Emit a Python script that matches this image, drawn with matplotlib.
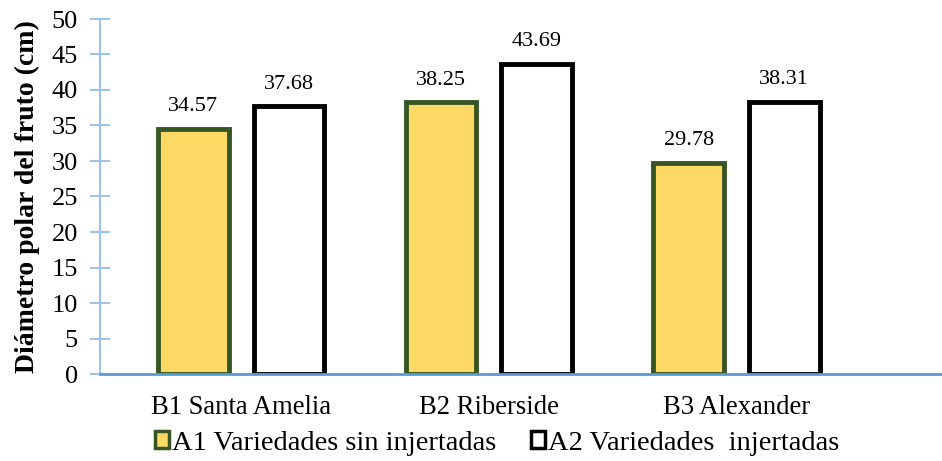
import matplotlib
matplotlib.use("Agg")
import matplotlib.pyplot as plt
import numpy as np
from matplotlib.patches import Patch

categories = ["B1 Santa Amelia", "B2 Riberside", "B3 Alexander"]
series_names = ["A1 Variedades sin injertadas", "A2 Variedades  injertadas"]
a1_values = [34.57, 38.25, 29.78]
a2_values = [37.68, 43.69, 38.31]
y_ticks = [0, 5, 10, 15, 20, 25, 30, 35, 40, 45, 50]

plt.rcParams['font.family'] = ['Liberation Serif', 'DejaVu Serif']

fig = plt.figure(figsize=(9.42, 4.61), dpi=100)
ax = fig.add_axes([100/942, 1-374/461, 1-100/942, (374-19)/461])

x = np.arange(len(categories))
w = 0.285
off = 0.193
b1 = ax.bar(x - off, a1_values, width=w, color="#FFD966", edgecolor="#375623", linewidth=3.5, label=series_names[0])
b2 = ax.bar(x + off, a2_values, width=w, color="white", edgecolor="black", linewidth=3.5, label=series_names[1])

for bars, vals in ((b1, a1_values), (b2, a2_values)):
    for rect, v in zip(bars, vals):
        ax.annotate(f"{v:.2f}", (rect.get_x() + rect.get_width()/2, v),
                    xytext=(0, 9), textcoords="offset points",
                    ha="center", va="bottom", fontsize=16)

ax.set_ylim(0, 50)
ax.set_yticks(y_ticks)
ax.set_xlim(-0.57, 2.83)
ax.set_xticks(x)
ax.set_xticklabels(categories, fontsize=19.2)
ax.tick_params(axis='x', length=0, pad=15)
ax.tick_params(axis='y', labelsize=19, direction='inout', length=14, color="#9DC3E6", width=1.5, pad=9)

for s in ("top", "right"):
    ax.spines[s].set_visible(False)
ax.spines["left"].set_color("#9DC3E6")
ax.spines["left"].set_linewidth(1.5)
ax.spines["bottom"].set_color("#5B9BD5")
ax.spines["bottom"].set_linewidth(2)
ax.spines["bottom"].set_zorder(5)

ax.set_ylabel("Diámetro polar del fruto (cm)", fontsize=20, fontweight="bold", labelpad=8)

handles = [Patch(facecolor="#FFD966", edgecolor="#375623", linewidth=2.5),
           Patch(facecolor="white", edgecolor="black", linewidth=2.5)]
fig.legend(handles, series_names, loc="center", bbox_to_anchor=(497/942, 1-443/461),
           ncol=2, frameon=False, fontsize=20.5, handlelength=0.5, handleheight=0.5,
           handletextpad=0.1, columnspacing=1.2)

fig.savefig("out.png", dpi=100)
